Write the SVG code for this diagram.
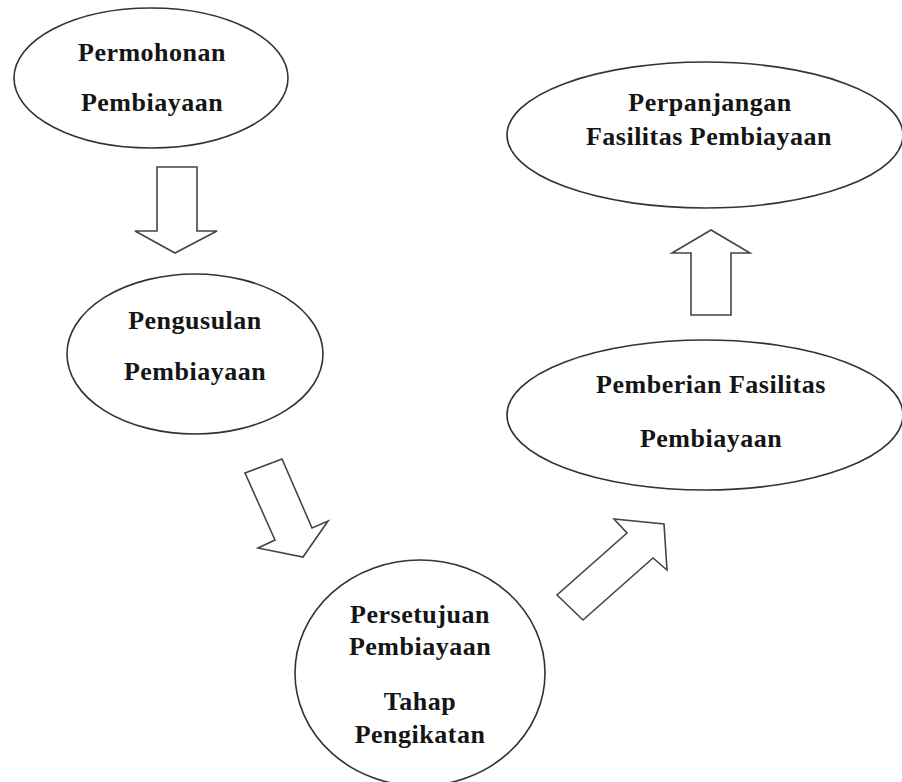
<svg xmlns="http://www.w3.org/2000/svg" width="902" height="782" viewBox="0 0 902 782">
<style>
.n{fill:#fff;stroke:#333;stroke-width:1.6}
.a{fill:#fff;stroke:#444;stroke-width:1.6;stroke-linejoin:miter}
.t{font-family:"Liberation Serif","Times New Roman",serif;font-weight:bold;font-size:26px;letter-spacing:0.5px;fill:#151515;text-anchor:middle}
</style>
<rect width="902" height="782" fill="#fff"/>
<g id="connectors">
<polygon class="a" points="157,167 197,167 197,231 217,231 175,253 135,231 157,231"/>
<polygon class="a" points="245,473 282,459 312,528 328,521 303,557 258,548 275,540"/>
<polygon class="a" points="557,595 583,620 653,558 667,570 664,524 614,519 627,533"/>
<polygon class="a" points="691,315 731,315 731,253 750,253 711,230 672,253 691,253"/>
</g>
<g id="n1">
<ellipse class="n" cx="151" cy="78" rx="137" ry="70"/>
<text class="t" x="152" y="61">Permohonan</text>
<text class="t" x="152" y="111">Pembiayaan</text>
</g>
<g id="n2">
<ellipse class="n" cx="195" cy="354" rx="128" ry="80"/>
<text class="t" x="195" y="329">Pengusulan</text>
<text class="t" x="195" y="380">Pembiayaan</text>
</g>
<g id="n3">
<ellipse class="n" cx="420" cy="673" rx="125" ry="113"/>
<text class="t" x="420" y="623">Persetujuan</text>
<text class="t" x="420" y="655">Pembiayaan</text>
<text class="t" x="420" y="710">Tahap</text>
<text class="t" x="420" y="743">Pengikatan</text>
</g>
<g id="n4">
<ellipse class="n" cx="705" cy="415" rx="198" ry="75"/>
<text class="t" x="711" y="393">Pemberian Fasilitas</text>
<text class="t" x="711" y="447">Pembiayaan</text>
</g>
<g id="n5">
<ellipse class="n" cx="705" cy="135" rx="198" ry="73"/>
<text class="t" x="710" y="111">Perpanjangan</text>
<text class="t" x="709" y="145">Fasilitas Pembiayaan</text>
</g>
</svg>
